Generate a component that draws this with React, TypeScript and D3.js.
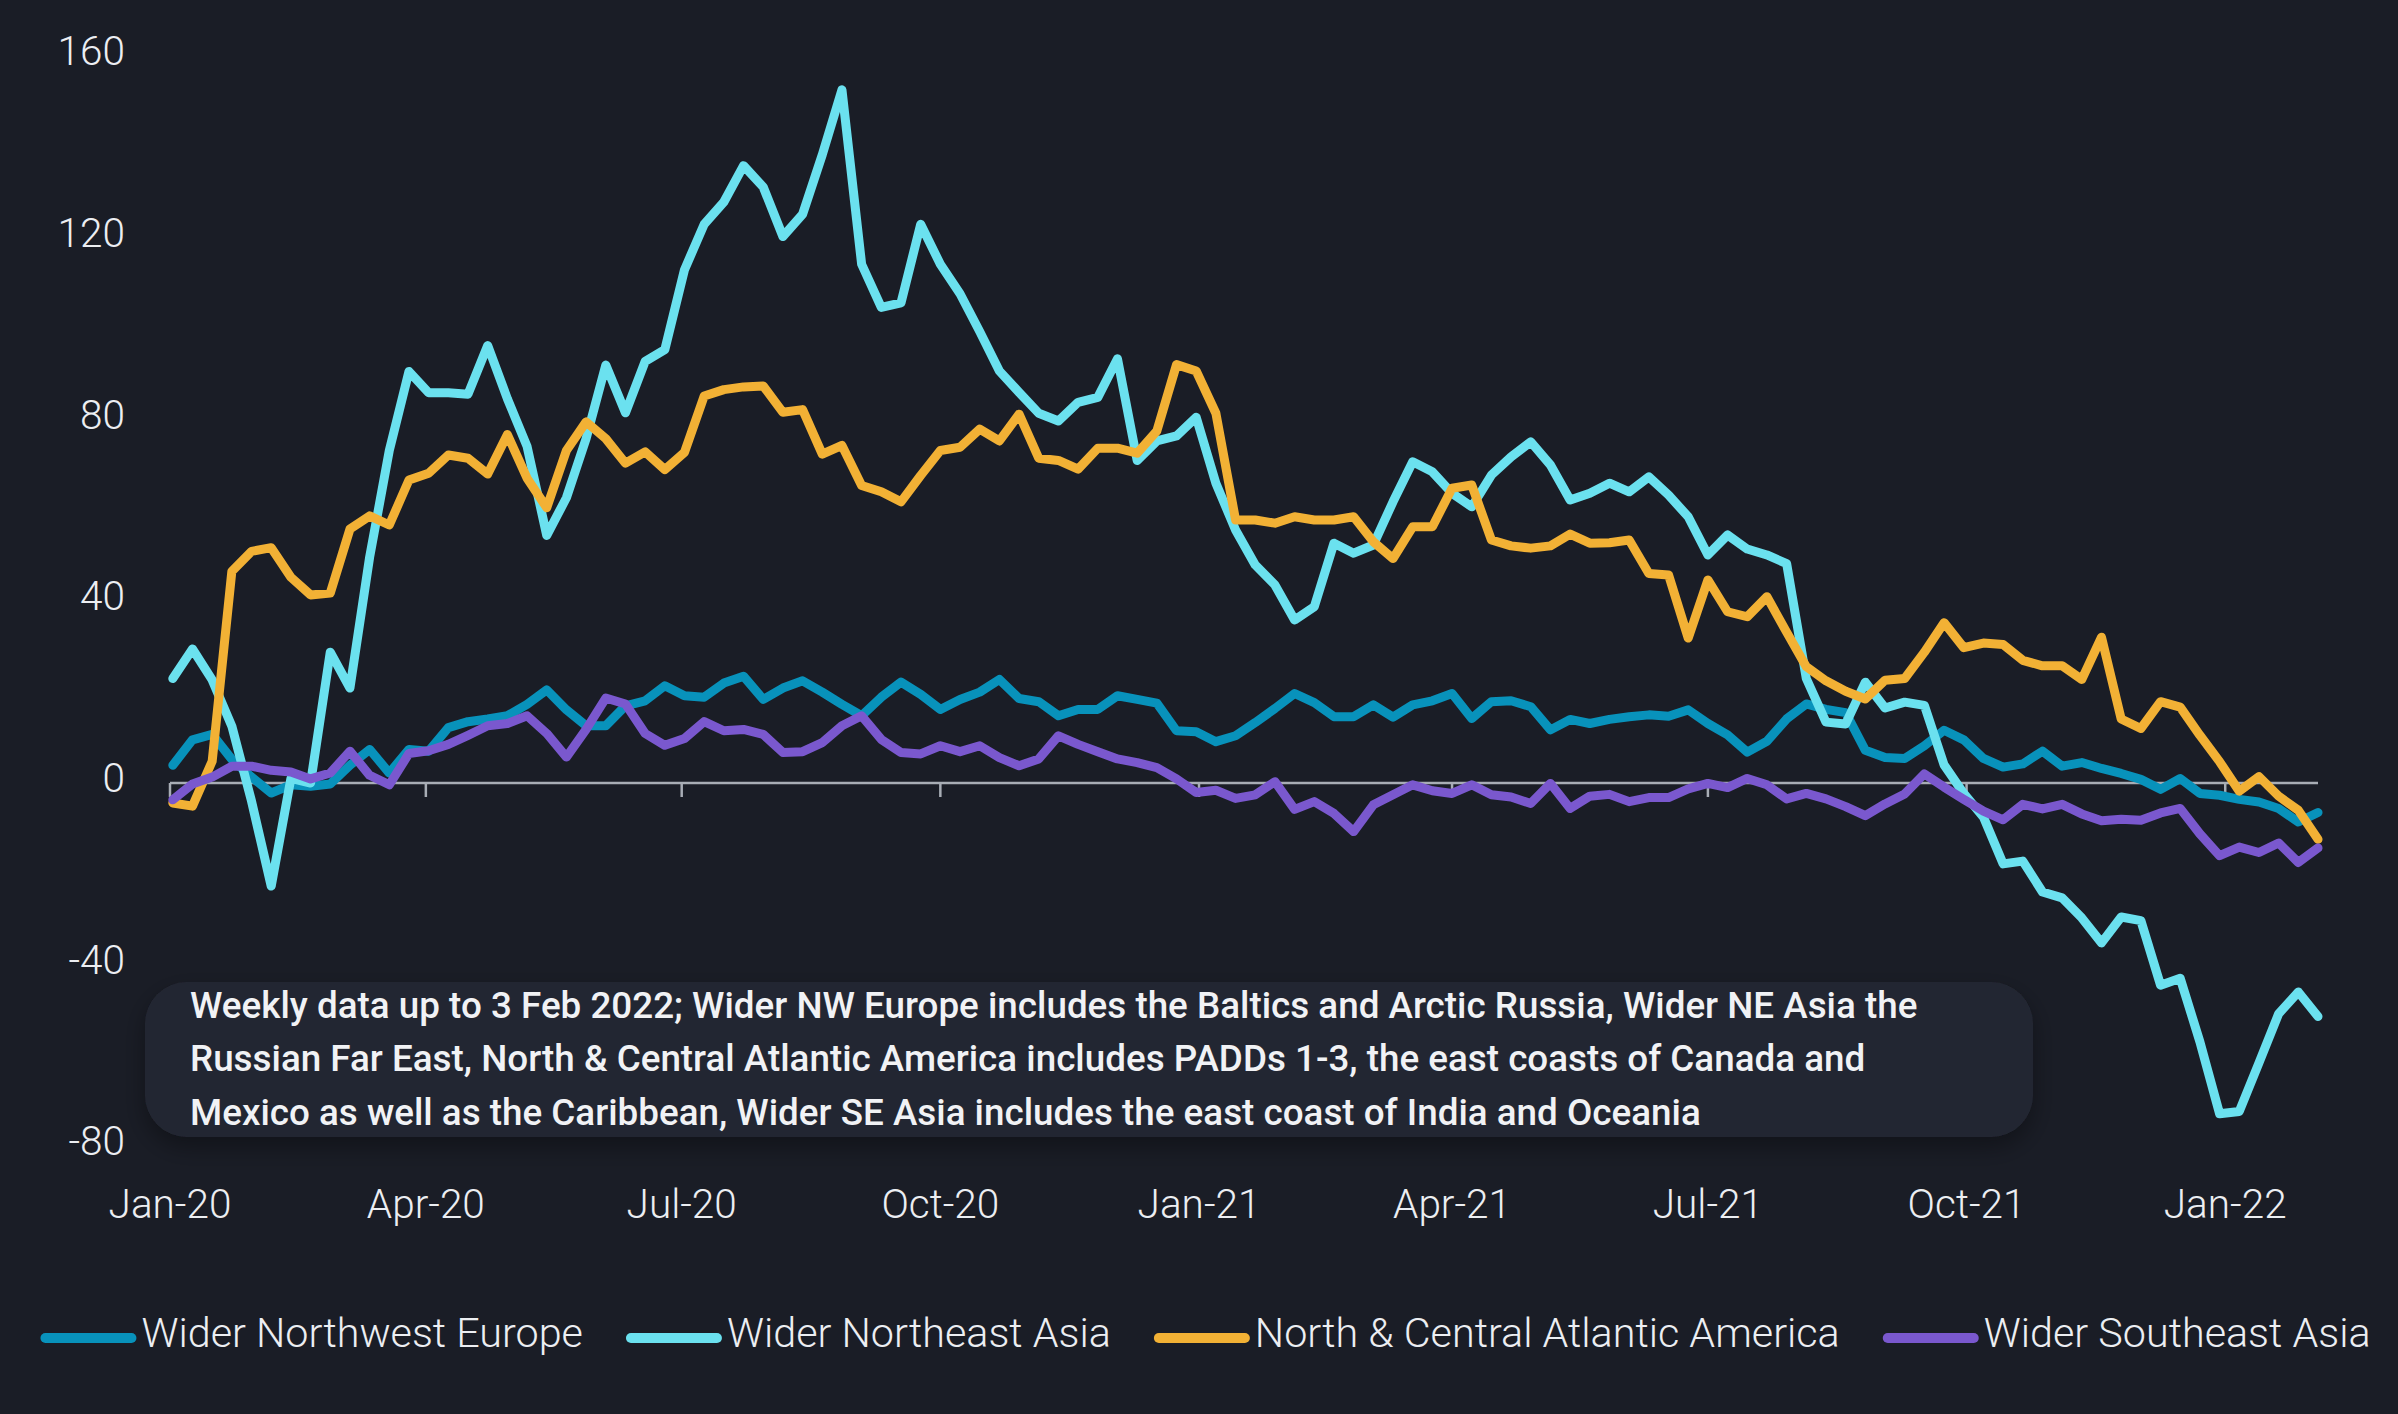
import React, { useEffect, useRef } from 'react';
import * as d3 from 'd3';

// ---------- DATA ----------
const FIRST_WEEK = Date.UTC(2020, 0, 2); // weekly observations, Thursdays
const WEEK_COUNT = 110;

const NW_EUROPE = [
  3.9, 9.5, 10.7, 5.2, 1.3, -2.2, -0.4, -0.7, -0.2, 3.9,
  7.4, 2.2, 7.4, 7, 12.2, 13.5, 14.1, 14.8, 17.3, 20.5,
  16.1, 12.6, 12.6, 17, 18.1, 21.4, 19.2, 18.9, 22, 23.5,
  18.4, 20.9, 22.5, 20, 17.3, 14.8, 18.9, 22.2, 19.5, 16.2,
  18.4, 20, 22.8, 18.6, 17.9, 14.8, 16.2, 16.2, 19.2, 18.4,
  17.6, 11.5, 11.3, 9.1, 10.4, 13.3, 16.4, 19.7, 17.7, 14.6,
  14.6, 17.2, 14.5, 17.2, 18.1, 19.7, 14.2, 17.9, 18.1, 16.8,
  11.7, 14, 13.1, 14, 14.6, 15, 14.7, 16.1, 13.1, 10.6,
  6.8, 9.2, 14.1, 17.4, 16.2, 15.5, 7.2, 5.6, 5.4, 8.2,
  11.6, 9.5, 5.4, 3.5, 4.2, 7, 3.7, 4.5, 3.2, 2.1,
  0.8, -1.4, 1, -2.3, -2.7, -3.6, -4.2, -5.6, -8.6, -6.5,
];

const NE_ASIA = [
  23, 29.5, 22.7, 12.5, -4, -22.7, 1, 0, 28.8, 20.9,
  49.7, 73.2, 90.6, 85.9, 85.9, 85.6, 96.3, 84.6, 74.1, 54.5,
  62.8, 75.8, 92, 81.5, 92.8, 95.4, 113, 123, 127.9, 135.9,
  131.2, 120.3, 125.2, 138.3, 152.6, 114.2, 104.7, 105.7, 123, 114.2,
  107.7, 99.4, 90.7, 86, 81.4, 79.7, 83.8, 84.9, 93.4, 71,
  75.3, 76.4, 80.5, 66, 55.7, 48, 43.6, 35.9, 38.8, 52.8,
  50.6, 52.4, 61.9, 70.7, 68.5, 63.8, 60.8, 67.8, 71.8, 75.1,
  70, 62.3, 63.8, 66, 64.1, 67.4, 63.4, 58.6, 50.2, 54.6,
  51.5, 50.2, 48.3, 23, 13.4, 13, 22.2, 16.5, 17.8, 17.1,
  4, -2.3, -7.5, -17.8, -17.2, -24, -25.3, -29.7, -35.2, -29.5,
  -30.3, -44.5, -43, -57, -72.8, -72.3, -61.6, -50.8, -46, -51.4,
];

const NC_ATLANTIC_AMERICA = [
  -4.4, -5.1, 4.8, 46.6, 51, 51.8, 45.3, 41.4, 41.8, 55.9,
  58.8, 56.8, 66.7, 68.2, 72.2, 71.5, 68, 76.7, 67.1, 60.6,
  73.2, 79.5, 75.8, 70.4, 72.9, 69, 72.8, 85.2, 86.6, 87.2,
  87.4, 81.6, 82.2, 72.4, 74.3, 65.5, 64.1, 61.9, 67.7, 73.2,
  73.9, 77.9, 75.3, 81.2, 71.5, 71, 69.1, 73.7, 73.7, 72.6,
  77.5, 92.1, 90.7, 81.4, 57.9, 57.9, 57.2, 58.6, 57.9, 57.9,
  58.6, 53.1, 49.4, 56.4, 56.4, 64.9, 65.6, 53.5, 52.2, 51.7,
  52.2, 54.8, 52.8, 52.9, 53.5, 46.1, 45.8, 31.9, 44.7, 37.7,
  36.6, 41, 33.2, 25.6, 22.5, 20.2, 18.5, 22.6, 23, 28.8,
  35.3, 29.8, 30.8, 30.5, 27, 25.8, 25.8, 22.8, 32.1, 14.1,
  12, 17.9, 16.7, 10.5, 4.7, -1.8, 1.4, -2.9, -6, -12.4,
];

const SE_ASIA = [
  -3.7, -0.2, 1.3, 3.7, 3.7, 2.8, 2.4, 0.9, 2.2, 7,
  1.7, -0.4, 6.5, 7.1, 8.5, 10.5, 12.6, 13.1, 14.8, 10.9,
  5.7, 11.8, 18.7, 17.4, 10.9, 8.3, 9.8, 13.5, 11.5, 11.8,
  10.7, 6.7, 6.9, 8.9, 12.6, 14.8, 9.6, 6.7, 6.4, 8.2,
  6.9, 8.2, 5.6, 3.8, 5.3, 10.4, 8.5, 6.9, 5.3, 4.5,
  3.4, 0.9, -2.1, -1.6, -3.4, -2.6, 0.3, -5.8, -4.1, -6.7,
  -10.7, -4.8, -2.6, -0.4, -1.7, -2.3, -0.4, -2.6, -3.1, -4.5,
  -0.1, -5.6, -2.9, -2.5, -4.1, -3.2, -3.2, -1.3, -0.1, -1,
  1, -0.4, -3.5, -2.3, -3.5, -5.2, -7.2, -4.6, -2.4, 2,
  -0.9, -3.6, -6.2, -8.1, -4.7, -5.7, -4.7, -6.8, -8.3, -8,
  -8.2, -6.6, -5.6, -11.2, -16, -14.1, -15.3, -13.2, -17.5, -14.3,
];

const SERIES_NAMES = [
  'Wider Northwest Europe',
  'Wider Northeast Asia',
  'North & Central Atlantic America',
  'Wider Southeast Asia',
];
const SERIES_VALUES = [NW_EUROPE, NE_ASIA, NC_ATLANTIC_AMERICA, SE_ASIA];
const SERIES_COLORS = ['#0892BB', '#6BE1EF', '#F2B135', '#7A58CE'];

const Y_TICKS = [-80, -40, 0, 40, 80, 120, 160];
const X_TICK_LABELS = ['Jan-20', 'Apr-20', 'Jul-20', 'Oct-20', 'Jan-21', 'Apr-21', 'Jul-21', 'Oct-21', 'Jan-22'];
const X_TICK_DATES = [
  [2020, 0], [2020, 3], [2020, 6], [2020, 9],
  [2021, 0], [2021, 3], [2021, 6], [2021, 9], [2022, 0],
];
const X_DOMAIN_START = Date.UTC(2020, 0, 1);
const X_DOMAIN_END = Date.UTC(2022, 1, 3);

const NOTE_LINES = [
  'Weekly data up to 3 Feb 2022; Wider NW Europe includes the Baltics and Arctic Russia, Wider NE Asia the',
  'Russian Far East, North & Central Atlantic America includes PADDs 1-3, the east coasts of Canada and',
  'Mexico as well as the Caribbean, Wider SE Asia includes the east coast of India and Oceania',
];

// ---------- LAYOUT ----------
const W = 2398;
const H = 1414;
const BG = '#1A1D26';
const TEXT = '#ECEEF2';
const FONT = 'Roboto, "Noto Sans", sans-serif';

export default function App() {
  const ref = useRef<SVGSVGElement | null>(null);

  useEffect(() => {
    document.body.style.margin = '0';
    document.body.style.background = BG;
    const svg = d3.select(ref.current);
    svg.selectAll('*').remove();

    const x = d3.scaleUtc().domain([new Date(X_DOMAIN_START), new Date(X_DOMAIN_END)]).range([170, 2318]);
    const y = d3.scaleLinear().domain([-80, 160]).range([1146.4, 56.2]);

    const dates = d3.range(WEEK_COUNT).map((i) => d3.utcDay.offset(new Date(FIRST_WEEK), i * 7));

    svg.append('rect').attr('width', W).attr('height', H).attr('fill', BG);

    const defs = svg.append('defs');
    const f = defs.append('filter').attr('id', 'shadow').attr('x', '-10%').attr('y', '-30%').attr('width', '120%').attr('height', '170%');
    f.append('feDropShadow').attr('dx', 0).attr('dy', 10).attr('stdDeviation', 12)
      .attr('flood-color', '#000').attr('flood-opacity', 0.35);

    // y labels
    svg.append('g').selectAll('text').data(Y_TICKS).join('text')
      .attr('x', 125).attr('y', (d) => y(d) - 5)
      .attr('text-anchor', 'end').attr('dominant-baseline', 'central')
      .attr('font-family', FONT).attr('font-weight', 300).attr('font-size', 40.5)
      .attr('fill', TEXT).text((d) => String(d));

    // zero line + ticks
    const y0 = y(0);
    svg.append('line').attr('x1', x.range()[0]).attr('x2', x.range()[1]).attr('y1', y0).attr('y2', y0)
      .attr('stroke', '#A8ADB5').attr('stroke-width', 2.5);
    const tickDates = X_TICK_DATES.map(([yy, mm]) => new Date(Date.UTC(yy, mm, 1)));
    svg.append('g').selectAll('line').data(tickDates).join('line')
      .attr('x1', (d) => x(d)).attr('x2', (d) => x(d)).attr('y1', y0).attr('y2', y0 + 14)
      .attr('stroke', '#A8ADB5').attr('stroke-width', 2.5);

    // x labels
    svg.append('g').selectAll('text').data(tickDates).join('text')
      .attr('x', (d) => x(d)).attr('y', 1204)
      .attr('text-anchor', 'middle').attr('dominant-baseline', 'central')
      .attr('font-family', FONT).attr('font-weight', 300).attr('font-size', 40.5)
      .attr('fill', TEXT).text((_, i) => X_TICK_LABELS[i]);

    // series
    const line = d3.line<number>().x((_, i) => x(dates[i])).y((d) => y(d));
    SERIES_VALUES.forEach((vals, si) => {
      svg.append('path').attr('d', line(vals) as string)
        .attr('fill', 'none').attr('stroke', SERIES_COLORS[si]).attr('stroke-width', 9)
        .attr('stroke-linejoin', 'round').attr('stroke-linecap', 'round');
    });

    // note box
    const note = svg.append('g');
    note.append('rect').attr('x', 145).attr('y', 982).attr('width', 1888).attr('height', 155)
      .attr('rx', 42).attr('fill', '#242733').attr('filter', 'url(#shadow)');
    note.selectAll('text').data(NOTE_LINES).join('text')
      .attr('x', 190).attr('y', (_, i) => 1005 + i * 53.5)
      .attr('dominant-baseline', 'central')
      .attr('font-family', FONT).attr('font-weight', 500).attr('font-size', 36.8)
      .attr('fill', '#F1F2F5').text((d) => d);

    // legend
    const leg = svg.append('g');
    let cx = 0;
    SERIES_NAMES.forEach((name, i) => {
      const g = leg.append('g').attr('transform', `translate(${cx},0)`);
      g.append('line').attr('x1', 5).attr('x2', 91).attr('y1', 1338).attr('y2', 1338)
        .attr('stroke', SERIES_COLORS[i]).attr('stroke-width', 10).attr('stroke-linecap', 'round');
      const t = g.append('text').attr('x', 101).attr('y', 1333)
        .attr('dominant-baseline', 'central')
        .attr('font-family', FONT).attr('font-weight', 300).attr('font-size', 41.3)
        .attr('fill', TEXT).text(name);
      const tw = (t.node() as SVGTextElement).getComputedTextLength();
      cx += 101 + tw + (i < SERIES_NAMES.length - 1 ? 43 : 0);
    });
    leg.attr('transform', `translate(${1205.5 - cx / 2},0)`);
  }, []);

  return (
    <svg ref={ref} width={W} height={H} style={{ display: 'block', position: 'absolute', left: 0, top: 0 }} />
  );
}
